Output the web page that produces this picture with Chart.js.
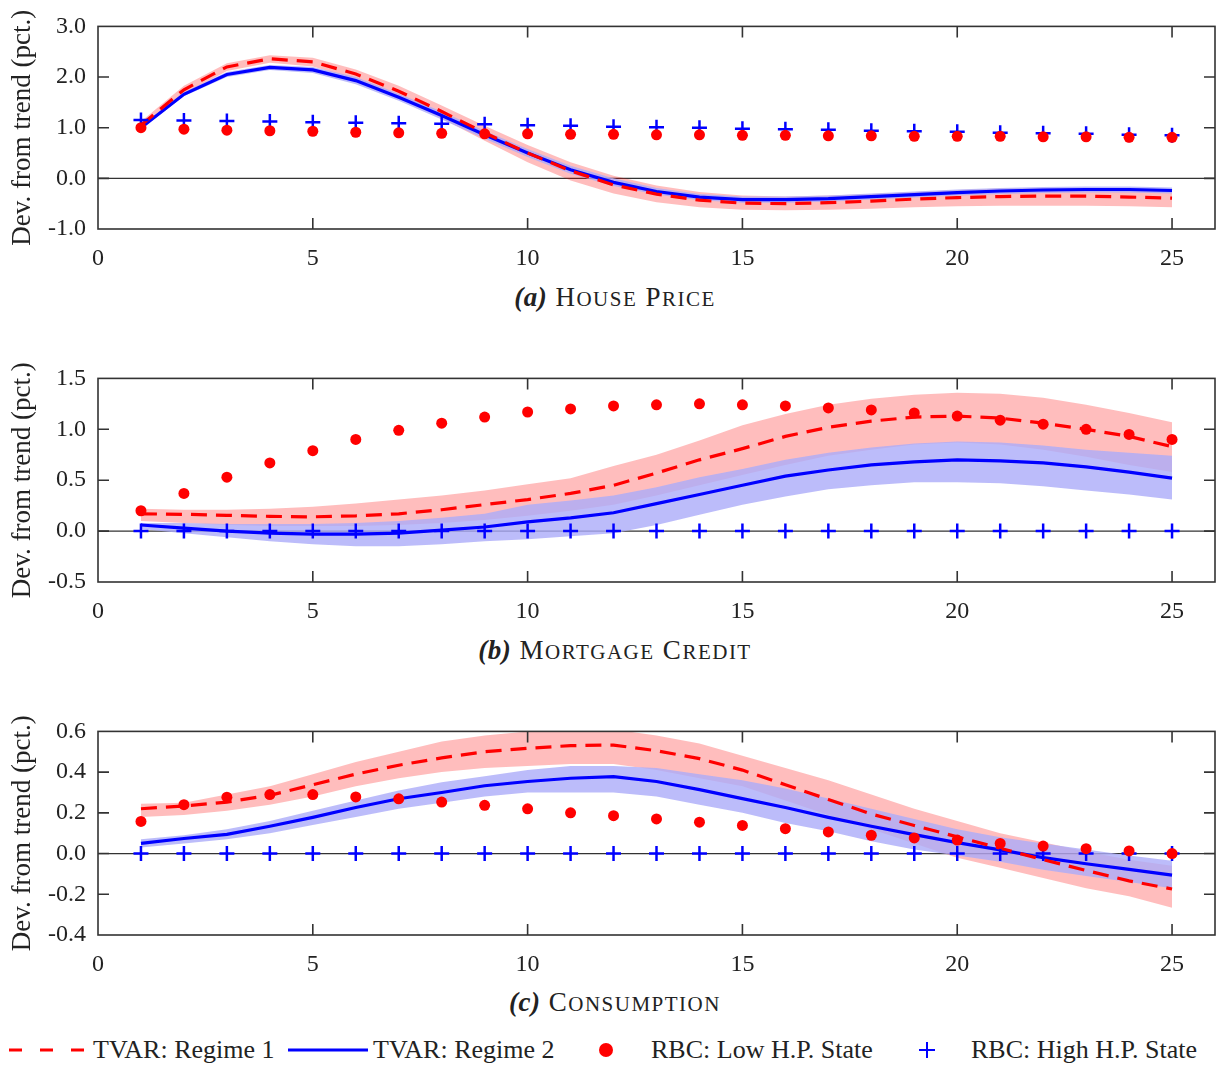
<!DOCTYPE html>
<html>
<head>
<meta charset="utf-8">
<script src="https://cdn.jsdelivr.net/npm/chart.js@4"></script>
<style>
body { margin: 0; background: #fff; width: 1219px; height: 1065px; position: relative; overflow: hidden;
  font-family: "Liberation Serif", "Times New Roman", serif; color: #222; }
canvas { position: absolute; left: 0; }
.cap { position: absolute; left: 0; width: 1230px; text-align: center; font-size: 27px; line-height: 30px; letter-spacing: 1.5px; }
.cap i { font-weight: bold; letter-spacing: 0.5px; }
.cap small { font-size: 21px; text-transform: uppercase; }
.leg { position: absolute; top: 1034px; font-size: 26px; line-height: 32px; white-space: nowrap; }
svg { position: absolute; top: 1034px; }
</style>
</head>
<body>
<canvas id="chartA" width="1219" height="275" style="top:0px"></canvas>
<div class="cap" style="top:282px"><i>(a)</i> H<small>ouse</small> P<small>rice</small></div>
<canvas id="chartB" width="1219" height="275" style="top:352px"></canvas>
<div class="cap" style="top:635px"><i>(b)</i> M<small>ortgage</small> C<small>redit</small></div>
<canvas id="chartC" width="1219" height="275" style="top:705px"></canvas>
<div class="cap" style="top:987px"><i>(c)</i> C<small>onsumption</small></div>

<svg width="100" height="32" style="left:0"><line x1="9" y1="16" x2="88" y2="16" stroke="#ff0000" stroke-width="3" stroke-dasharray="13 18"/></svg>
<div class="leg" style="left:93px">TVAR: Regime 1</div>
<svg width="90" height="32" style="left:285px"><line x1="3" y1="16" x2="83" y2="16" stroke="#0000ff" stroke-width="3"/></svg>
<div class="leg" style="left:373px">TVAR: Regime 2</div>
<svg width="30" height="32" style="left:591px"><circle cx="15" cy="16" r="7" fill="#ff0000"/></svg>
<div class="leg" style="left:651px">RBC: Low H.P. State</div>
<svg width="30" height="32" style="left:912px"><path d="M15 8 V24 M7 16 H23" stroke="#0000ff" stroke-width="2"/></svg>
<div class="leg" style="left:971px">RBC: High H.P. State</div>

<script>
// horizon (quarters)
const horizons = [1,2,3,4,5,6,7,8,9,10,11,12,13,14,15,16,17,18,19,20,21,22,23,24,25];
const xTicks = [0, 5, 10, 15, 20, 25];

// (a) House price
const houseReg1   = [1.05,1.75,2.2,2.36,2.3,2.06,1.72,1.32,0.9,0.5,0.15,-0.13,-0.31,-0.43,-0.49,-0.5,-0.48,-0.45,-0.41,-0.38,-0.36,-0.35,-0.35,-0.37,-0.39];
const houseReg1Lo = [0.98,1.66,2.12,2.28,2.21,1.96,1.6,1.18,0.74,0.32,-0.04,-0.3,-0.47,-0.57,-0.62,-0.63,-0.62,-0.6,-0.57,-0.55,-0.54,-0.54,-0.54,-0.55,-0.57];
const houseReg1Hi = [1.12,1.83,2.27,2.43,2.38,2.15,1.83,1.44,1.04,0.66,0.32,0.05,-0.14,-0.27,-0.34,-0.36,-0.34,-0.31,-0.27,-0.23,-0.2,-0.19,-0.19,-0.2,-0.22];
const houseReg2   = [1.0,1.66,2.05,2.19,2.14,1.93,1.6,1.24,0.86,0.5,0.17,-0.08,-0.26,-0.37,-0.42,-0.42,-0.4,-0.36,-0.32,-0.28,-0.25,-0.23,-0.22,-0.22,-0.24];
const houseReg2Lo = [0.97,1.62,2.0,2.14,2.08,1.86,1.53,1.16,0.78,0.42,0.09,-0.15,-0.32,-0.43,-0.48,-0.48,-0.46,-0.42,-0.38,-0.34,-0.31,-0.29,-0.28,-0.28,-0.3];
const houseReg2Hi = [1.03,1.7,2.1,2.24,2.2,2.0,1.67,1.32,0.94,0.58,0.25,0.0,-0.19,-0.31,-0.36,-0.36,-0.34,-0.3,-0.26,-0.22,-0.19,-0.17,-0.16,-0.16,-0.18];
const houseLow    = [1.0,0.97,0.95,0.94,0.93,0.91,0.9,0.89,0.88,0.88,0.87,0.87,0.86,0.86,0.85,0.85,0.84,0.84,0.83,0.83,0.83,0.82,0.82,0.81,0.81];
const houseHigh   = [1.15,1.14,1.13,1.12,1.11,1.1,1.09,1.08,1.07,1.05,1.04,1.02,1.01,1.0,0.98,0.97,0.96,0.94,0.93,0.92,0.9,0.89,0.88,0.86,0.85];

// (b) Mortgage credit
const creditReg1   = [0.17,0.165,0.155,0.145,0.14,0.15,0.17,0.21,0.26,0.31,0.37,0.45,0.57,0.7,0.81,0.93,1.02,1.08,1.12,1.13,1.11,1.06,1.0,0.93,0.83];
const creditReg1Lo = [0.1,0.08,0.06,0.05,0.05,0.05,0.06,0.08,0.11,0.15,0.2,0.26,0.35,0.45,0.55,0.65,0.74,0.8,0.85,0.87,0.85,0.8,0.73,0.65,0.58];
const creditReg1Hi = [0.22,0.21,0.21,0.22,0.24,0.27,0.31,0.35,0.4,0.46,0.52,0.64,0.75,0.89,1.04,1.15,1.24,1.3,1.34,1.36,1.35,1.31,1.24,1.16,1.07];
const creditReg2   = [0.06,0.03,0.0,-0.02,-0.03,-0.03,-0.02,0.01,0.04,0.09,0.13,0.18,0.27,0.36,0.45,0.54,0.6,0.65,0.68,0.7,0.69,0.67,0.63,0.58,0.52];
const creditReg2Lo = [0.02,-0.02,-0.06,-0.1,-0.13,-0.15,-0.15,-0.13,-0.1,-0.08,-0.05,-0.02,0.06,0.16,0.26,0.34,0.41,0.45,0.48,0.48,0.47,0.44,0.4,0.36,0.31];
const creditReg2Hi = [0.08,0.08,0.07,0.07,0.07,0.08,0.1,0.13,0.17,0.26,0.3,0.35,0.43,0.53,0.61,0.7,0.77,0.82,0.86,0.88,0.87,0.84,0.8,0.77,0.74];
const creditLow    = [0.2,0.37,0.53,0.67,0.79,0.9,0.99,1.06,1.12,1.17,1.2,1.23,1.24,1.25,1.24,1.23,1.21,1.19,1.16,1.13,1.09,1.05,1.0,0.95,0.9];
const creditHigh   = [0,0,0,0,0,0,0,0,0,0,0,0,0,0,0,0,0,0,0,0,0,0,0,0,0];

// (c) Consumption
const consReg1   = [0.22,0.234,0.253,0.286,0.338,0.39,0.434,0.47,0.5,0.517,0.53,0.533,0.505,0.466,0.41,0.338,0.266,0.194,0.138,0.082,0.026,-0.03,-0.083,-0.134,-0.174];
const consReg1Lo = [0.18,0.19,0.21,0.24,0.28,0.33,0.37,0.4,0.42,0.43,0.44,0.44,0.41,0.37,0.33,0.26,0.19,0.12,0.05,-0.02,-0.07,-0.12,-0.17,-0.21,-0.266];
const consReg1Hi = [0.245,0.25,0.29,0.33,0.39,0.45,0.5,0.55,0.58,0.6,0.61,0.61,0.58,0.54,0.48,0.42,0.36,0.29,0.22,0.16,0.1,0.055,0.01,-0.03,-0.06];
const consReg2   = [0.05,0.074,0.094,0.134,0.178,0.226,0.269,0.3,0.333,0.354,0.37,0.378,0.354,0.314,0.27,0.226,0.178,0.134,0.093,0.054,0.018,-0.02,-0.05,-0.078,-0.106];
const consReg2Lo = [0.03,0.05,0.07,0.1,0.14,0.18,0.22,0.25,0.28,0.3,0.3,0.3,0.28,0.24,0.2,0.15,0.11,0.06,0.02,-0.01,-0.04,-0.08,-0.11,-0.14,-0.17];
const consReg2Hi = [0.07,0.09,0.12,0.16,0.21,0.26,0.31,0.35,0.38,0.41,0.43,0.43,0.42,0.39,0.36,0.32,0.27,0.22,0.17,0.12,0.08,0.05,0.02,-0.01,-0.035];
const consLow    = [0.158,0.24,0.277,0.29,0.29,0.278,0.269,0.253,0.237,0.22,0.2,0.186,0.17,0.154,0.138,0.122,0.106,0.09,0.077,0.066,0.05,0.037,0.024,0.013,0.0];
const consHigh   = [0,0,0,0,0,0,0,0,0,0,0,0,0,0,0,0,0,0,0,0,0,0,0,0,0];

const RED = '#ff0000';
const BLUE = '#0000ff';
const SERIF = '"Liberation Serif", "Times New Roman", serif';

Chart.defaults.font.family = SERIF;
Chart.defaults.color = '#222';

const pts = vals => vals.map((v, i) => ({ x: horizons[i], y: v }));

// zero line under the data, box and inward ticks on top
const framePlugin = {
    id: 'frame',
    beforeDatasetsDraw(chart) {
        const { ctx, chartArea: a, scales: { y } } = chart;
        const y0 = y.getPixelForValue(0);
        ctx.save();
        ctx.strokeStyle = '#333';
        ctx.lineWidth = 1.2;
        ctx.beginPath();
        ctx.moveTo(a.left, y0);
        ctx.lineTo(a.right, y0);
        ctx.stroke();
        ctx.restore();
    },
    afterDatasetsDraw(chart) {
        const { ctx, chartArea: a, scales: { x, y } } = chart;
        const len = 11;
        ctx.save();
        ctx.strokeStyle = '#333';
        ctx.lineWidth = 1.6;
        ctx.strokeRect(a.left, a.top, a.right - a.left, a.bottom - a.top);
        ctx.beginPath();
        x.ticks.forEach(t => {
            if (t.value <= x.min) return;
            const px = x.getPixelForValue(t.value);
            ctx.moveTo(px, a.bottom); ctx.lineTo(px, a.bottom - len);
            ctx.moveTo(px, a.top); ctx.lineTo(px, a.top + len);
        });
        y.ticks.forEach(t => {
            if (t.value <= y.min + 1e-9 || t.value >= y.max - 1e-9) return;
            const py = y.getPixelForValue(t.value);
            ctx.moveTo(a.left, py); ctx.lineTo(a.left + len, py);
            ctx.moveTo(a.right, py); ctx.lineTo(a.right - len, py);
        });
        ctx.stroke();
        ctx.restore();
    }
};

function makePanel(id, s, yMin, yMax, yStep, xHeight) {
    const band = (vals, color, fill, order) => ({
        data: pts(vals), borderWidth: 0, pointRadius: 0, backgroundColor: color,
        fill: fill, order: order, tension: 0
    });
    return new Chart(document.getElementById(id), {
        type: 'line',
        data: {
            datasets: [
                band(s.reg1Lo, 'rgba(255,0,0,0.26)', false, 6),
                band(s.reg1Hi, 'rgba(255,0,0,0.26)', '-1', 6),
                band(s.reg2Lo, 'rgba(171,171,249,0.8)', false, 5),
                band(s.reg2Hi, 'rgba(171,171,249,0.8)', '-1', 5),
                { data: pts(s.reg2), borderColor: BLUE, borderWidth: 3.2, pointRadius: 0, fill: false, order: 3, tension: 0 },
                { data: pts(s.reg1), borderColor: RED, borderWidth: 3.2, borderDash: [16, 9], pointRadius: 0, fill: false, order: 2, tension: 0 },
                { data: pts(s.high), showLine: false, pointStyle: 'cross', pointRadius: 7.5, pointBorderWidth: 2.5,
                  borderColor: BLUE, backgroundColor: BLUE, order: 1 },
                { data: pts(s.low), showLine: false, pointStyle: 'circle', pointRadius: 5.5, pointBorderWidth: 0,
                  borderColor: RED, backgroundColor: RED, order: 0 }
            ]
        },
        options: {
            responsive: false,
            animation: false,
            devicePixelRatio: 1,
            layout: { autoPadding: false, padding: { top: 22, right: 4, left: 0, bottom: 0 } },
            plugins: { legend: { display: false }, tooltip: { enabled: false } },
            scales: {
                x: {
                    type: 'linear', min: 0, max: 26,
                    grid: { display: false, drawTicks: false },
                    border: { display: false },
                    afterBuildTicks: sc => { sc.ticks = xTicks.map(v => ({ value: v })); },
                    afterFit: sc => { sc.height = xHeight; },
                    ticks: { padding: 15, font: { size: 24 }, color: '#222', maxRotation: 0 }
                },
                y: {
                    min: yMin, max: yMax,
                    grid: { display: false, drawTicks: false },
                    border: { display: false },
                    afterFit: sc => { sc.width = 98; },
                    ticks: {
                        stepSize: yStep, padding: 12, font: { size: 24 }, color: '#222',
                        callback: v => (Math.abs(v) < 1e-9 ? 0 : v).toFixed(1)
                    },
                    title: {
                        display: true, text: 'Dev. from trend (pct.)', color: '#222',
                        font: { size: 27 }, padding: { top: 7, bottom: 0 }
                    }
                }
            }
        },
        plugins: [framePlugin]
    });
}

makePanel('chartA', {
    reg1: houseReg1, reg1Lo: houseReg1Lo, reg1Hi: houseReg1Hi,
    reg2: houseReg2, reg2Lo: houseReg2Lo, reg2Hi: houseReg2Hi,
    low: houseLow, high: houseHigh
}, -1, 3, 1, 46);

makePanel('chartB', {
    reg1: creditReg1, reg1Lo: creditReg1Lo, reg1Hi: creditReg1Hi,
    reg2: creditReg2, reg2Lo: creditReg2Lo, reg2Hi: creditReg2Hi,
    low: creditLow, high: creditHigh
}, -0.5, 1.5, 0.5, 45);

makePanel('chartC', {
    reg1: consReg1, reg1Lo: consReg1Lo, reg1Hi: consReg1Hi,
    reg2: consReg2, reg2Lo: consReg2Lo, reg2Hi: consReg2Hi,
    low: consLow, high: consHigh
}, -0.4, 0.6, 0.2, 45);
</script>
</body>
</html>
